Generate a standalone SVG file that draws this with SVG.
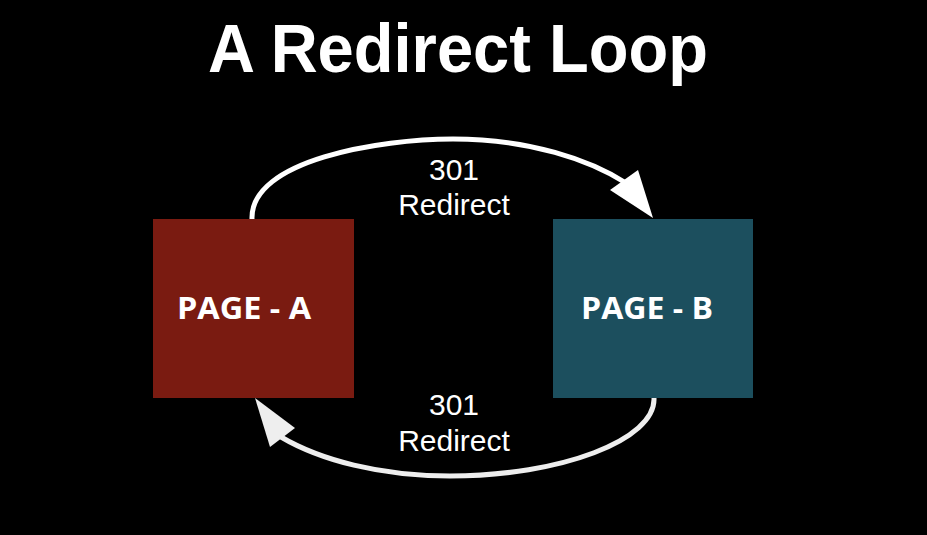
<svg xmlns="http://www.w3.org/2000/svg" width="927" height="535" viewBox="0 0 927 535">
<style>
.title{font-family:"Liberation Sans",Arial,sans-serif;font-weight:bold;font-size:69px;fill:#ffffff}
.lbl{font-family:"Liberation Sans",Arial,sans-serif;font-size:30px;fill:#ffffff}
.page{font-family:"Open Sans","Liberation Sans",sans-serif;font-weight:bold;font-size:30px;fill:#ffffff}
.arc{fill:none;stroke-width:5;stroke-linecap:round}
</style>
<rect x="0" y="0" width="927" height="535" fill="#000000"/>
<text class="title" x="458" y="72" text-anchor="middle" textLength="500" lengthAdjust="spacingAndGlyphs">A Redirect Loop</text>
<g id="connectors">
  <g id="edge-a-b">
    <path class="arc" stroke="#ffffff" d="M252,219 C250,160 380,139 453,139 C530,139 590,160 626,183"/>
    <polygon points="653,218 610,190 638,170" fill="#ffffff"/>
    <text class="lbl" x="454" y="180" text-anchor="middle">301</text>
    <text class="lbl" x="454" y="215" text-anchor="middle">Redirect</text>
  </g>
  <g id="edge-b-a">
    <path class="arc" stroke="#eeeeee" d="M654,398 C656,440 560,476 450,476 C380,476 320,460 281,437"/>
    <polygon points="255,398 270,447 295,428" fill="#eeeeee"/>
    <text class="lbl" x="454" y="415" text-anchor="middle">301</text>
    <text class="lbl" x="454" y="451" text-anchor="middle">Redirect</text>
  </g>
</g>
<g id="page-a">
  <rect x="153" y="219" width="201" height="179" fill="#7a1b11"/>
  <text class="page" x="244" y="319" text-anchor="middle" textLength="134" lengthAdjust="spacingAndGlyphs">PAGE - A</text>
</g>
<g id="page-b">
  <rect x="553" y="219" width="200" height="179" fill="#1c4f5e"/>
  <text class="page" x="647" y="319" text-anchor="middle" textLength="132" lengthAdjust="spacingAndGlyphs">PAGE - B</text>
</g>
</svg>
